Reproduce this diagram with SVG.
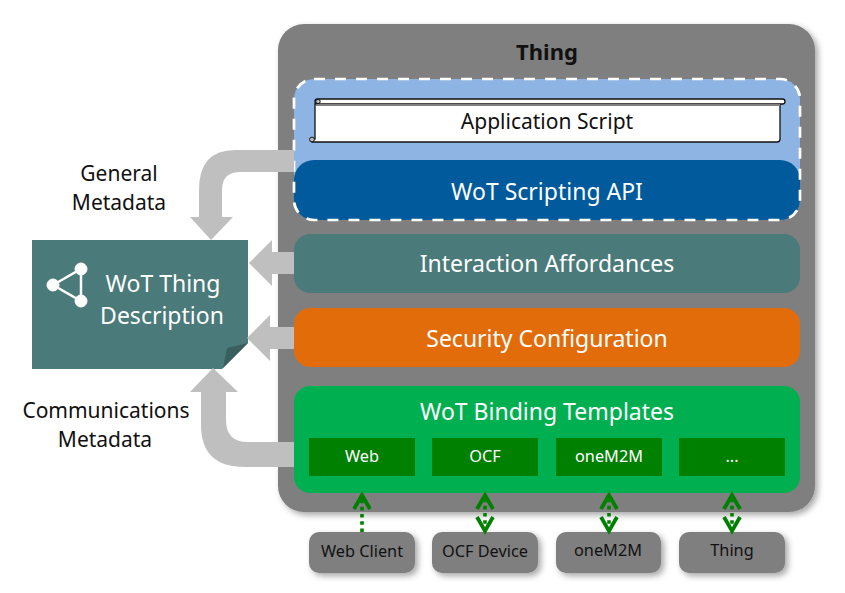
<svg xmlns="http://www.w3.org/2000/svg" width="845" height="593" viewBox="0 0 845 593">
<style>
text{font-family:"Noto Sans","Open Sans","Liberation Sans",sans-serif;text-anchor:middle}
.w{fill:#fff}.k{fill:#111}
.l{font-size:23px}.s{font-size:16.300px}
.a{fill:#bfbfbf}
.g{stroke:#008000;stroke-width:3.6;stroke-dasharray:3.6 3.6;fill:none}
.inner{fill:#008000}
.ext{fill:#7f7f7f;filter:url(#sh)}
</style>
<defs>
<filter id="sh" x="-10%" y="-10%" width="125%" height="130%"><feDropShadow dx="3" dy="3" stdDeviation="3" flood-color="#000" flood-opacity=".35"/></filter>
<marker id="ch" markerUnits="userSpaceOnUse" markerWidth="24" markerHeight="24" refX="20" refY="12" orient="auto-start-reverse" viewBox="0 0 24 24"><path d="M6 4L20 12L6 20" fill="none" stroke="#008000" stroke-width="3.800"/></marker>
</defs>
<g id="thing"><rect x="278" y="24" width="537" height="488" rx="26" fill="#7f7f7f" filter="url(#sh)"/>
<text x="547" y="60" font-size="22" font-weight="700" fill="#111">Thing</text></g>
<g id="script-layer"><rect x="294" y="79" width="506" height="141" rx="20" fill="#8eb4e3"/></g>
<g id="scripting-api"><rect x="294" y="160" width="506" height="60" rx="20" fill="#005a9c"/>
<text class="l w" x="547" y="200">WoT Scripting API</text></g>
<rect id="dash-frame" x="294" y="79" width="506" height="141" rx="20" fill="none" stroke="#fff" stroke-width="2.700" stroke-dasharray="11 10"/>
<g id="application-script">
<path d="M315 104V139H312a3 3 0 0 0 0 3H777a3 3 0 0 0 3-3V104Z" fill="#fff" stroke="#111" stroke-width="1.300"/>
<rect x="315" y="99" width="470" height="5" rx="2.500" fill="#fff" stroke="#111" stroke-width="1.300"/>
<rect x="316" y="104" width="464" height="2" fill="#7f7f7f"/>
<circle cx="318" cy="101.500" r="2.200" fill="#bbb" stroke="#111"/><circle cx="312" cy="139.500" r="2.400" fill="#bbb" stroke="#111"/>
<text class="k" x="547" y="129" font-size="21">Application Script</text></g>
<g id="interaction-affordances"><rect x="294" y="234" width="506" height="59" rx="16" fill="#4a7a7a"/>
<text class="l w" x="547" y="272">Interaction Affordances</text></g>
<g id="security-configuration"><rect x="294" y="308" width="506" height="59" rx="16" fill="#e36c0a"/>
<text class="l w" x="547" y="347">Security Configuration</text></g>
<g id="binding-templates"><rect x="294" y="386" width="506" height="107" rx="16" fill="#00b050"/>
<text class="l w" x="547" y="420">WoT Binding Templates</text></g>
<g id="web"><rect class="inner" x="309" y="438" width="106" height="38"/><text class="s w" x="362" y="462">Web</text></g>
<g id="ocf"><rect class="inner" x="432" y="438" width="106" height="38"/><text class="s w" x="485" y="462">OCF</text></g>
<g id="onem2m"><rect class="inner" x="556" y="438" width="106" height="38"/><text class="s w" x="609" y="462">oneM2M</text></g>
<g id="more"><rect class="inner" x="679" y="438" width="106" height="38"/><text class="s w" x="732" y="462">...</text></g>
<g id="web-client"><rect class="ext" x="309" y="532" width="106" height="41" rx="10"/><text class="s k" x="362" y="557">Web Client</text></g>
<g id="ocf-device"><rect class="ext" x="432" y="532" width="106" height="41" rx="10"/><text class="s k" x="485" y="557">OCF Device</text></g>
<g id="onem2m-device"><rect class="ext" x="556" y="532" width="105" height="41" rx="10"/><text class="s k" x="608" y="556">oneM2M</text></g>
<g id="thing-device"><rect class="ext" x="679" y="532" width="106" height="41" rx="10"/><text class="s k" x="732" y="556">Thing</text></g>
<g id="thing-description"><path d="M32 240H248V343L222 369H32Z" fill="#4a7a7a"/><path d="M227 348L248 343L223 368Z" fill="#3a5f5f"/>
<g fill="#fff" stroke="#fff"><path d="M53 285L81 269V301Z" fill="none" stroke-width="2.500"/><circle cx="53" cy="285" r="6"/><circle cx="81" cy="269" r="6"/><circle cx="81" cy="301" r="6"/></g>
<text class="l w" x="163" y="292">WoT Thing</text><text class="l w" x="162" y="324">Description</text></g>
<g id="labels" fill="#111"><text x="119" y="181" font-size="21">General</text><text x="119" y="210" font-size="21">Metadata</text><text x="106" y="418" font-size="21">Communications</text><text x="105" y="447" font-size="21">Metadata</text></g>
<g id="connectors">
<path class="a" d="M294 150V172H240Q222 172 222 190V217H233L211 240L190 217H199V190Q199 150 235 150Z"/>
<path class="a" d="M294 252V274H272V286L249 263L272 240V252Z"/>
<path class="a" d="M294 327V349H270V361L247 338L270 315V327Z"/>
<path class="a" d="M294 442V467H245Q201 467 201 425V392H190L213 368L238 392H226V420Q226 442 248 442Z"/>
<line class="g" x1="362" y1="532" x2="362" y2="495" marker-end="url(#ch)"/>
<line class="g" x1="485" y1="531" x2="485" y2="495" marker-start="url(#ch)" marker-end="url(#ch)"/>
<line class="g" x1="609" y1="531" x2="609" y2="495" marker-start="url(#ch)" marker-end="url(#ch)"/>
<line class="g" x1="732" y1="531" x2="732" y2="495" marker-start="url(#ch)" marker-end="url(#ch)"/>
</g>
</svg>
